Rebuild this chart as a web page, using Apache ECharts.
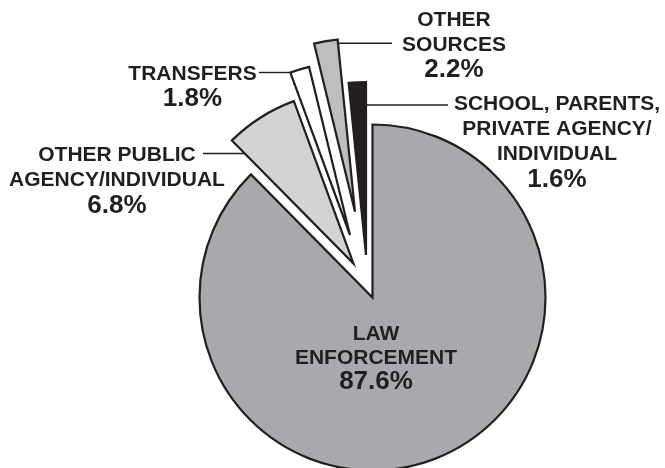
<!DOCTYPE html>
<html>
<head>
<meta charset="utf-8">
<script src="https://cdn.jsdelivr.net/npm/echarts@6/dist/echarts.min.js"></script>
<style>
html,body{margin:0;padding:0;background:#fff;}
#chart{width:665px;height:468px;}
</style>
</head>
<body>
<div id="chart"></div>
<script>
// ---- data ----
const categories = ['LAW ENFORCEMENT', 'OTHER PUBLIC AGENCY/INDIVIDUAL', 'TRANSFERS', 'OTHER SOURCES', 'SCHOOL, PARENTS, PRIVATE AGENCY/INDIVIDUAL'];
const values = [87.6, 6.8, 1.8, 2.2, 1.6];
const labelLines = [
  ['LAW', 'ENFORCEMENT'],
  ['OTHER PUBLIC', 'AGENCY/INDIVIDUAL'],
  ['TRANSFERS'],
  ['OTHER', 'SOURCES'],
  ['SCHOOL, PARENTS,', 'PRIVATE AGENCY/', 'INDIVIDUAL']
];

// ---- layout & style ----
const PIE = { cx: 372.5, cy: 297.5, r: 173 };
const explode = [[0, 0], [-19, -34], [-22.5, -62.5], [-17.5, -85.8], [-6.5, -42.5]];
const colors = ['#a7a9ac', '#d1d3d4', '#ffffff', '#bcbec0', '#231f20'];
const INK = '#231f20';
const labelPos = [
  { x: 376, y: 322, lh: 24 },
  { x: 117, y: 143, lh: 25, lineY: 153.5, lineX: 203, side: 'left' },
  { x: 192.5, y: 61.5, lh: 25, lineY: 72.5, lineX: 259, side: 'left' },
  { x: 454, y: 7.5, lh: 25, lineY: 43.3, lineX: 392, side: 'right' },
  { x: 557, y: 92, lh: 25, lineY: 105, lineX: 448, side: 'right' }
];

const total = values.reduce((a, b) => a + b, 0);
function sliceAngles(i) {
  let s = 0;
  for (let k = 0; k < i; k++) s += values[k];
  return [s / total * 360, (s + values[i]) / total * 360];
}
function pt(cx, cy, r, deg) {
  const a = deg * Math.PI / 180;
  return [cx + r * Math.sin(a), cy - r * Math.cos(a)];
}
// x where horizontal line y meets slice i's outline, on the label side
function edgeX(i, y, side) {
  const cx = PIE.cx + explode[i][0], cy = PIE.cy + explode[i][1];
  const [a0, a1] = sliceAngles(i);
  const poly = [[cx, cy]];
  const n = 40;
  for (let k = 0; k <= n; k++) poly.push(pt(cx, cy, PIE.r, a0 + (a1 - a0) * k / n));
  const xs = [];
  for (let k = 0; k < poly.length; k++) {
    const p = poly[k], q = poly[(k + 1) % poly.length];
    if ((p[1] - y) * (q[1] - y) <= 0 && p[1] !== q[1]) {
      const t = (y - p[1]) / (q[1] - p[1]);
      xs.push(p[0] + t * (q[0] - p[0]));
    }
  }
  if (!xs.length) return cx;
  return side === 'left' ? Math.min.apply(null, xs) : Math.max.apply(null, xs);
}

const series = values.map(function (v, i) {
  return {
    type: 'pie',
    name: categories[i],
    center: [PIE.cx + explode[i][0], PIE.cy + explode[i][1]],
    radius: [0, PIE.r],
    startAngle: 90,
    clockwise: true,
    avoidLabelOverlap: false,
    silent: true,
    animation: false,
    emphasis: { disabled: true },
    itemStyle: { borderColor: INK, borderWidth: 2.2, borderJoin: 'miter' },
    label: {
      show: true,
      position: 'outside',
      color: INK,
      fontFamily: 'Liberation Sans, Arial, sans-serif',
      fontWeight: 'bold',
      formatter: function (p) {
        const ls = labelLines[p.dataIndex].map(function (s) { return '{n|' + s + '}'; });
        ls.push('{p|' + p.value.toFixed(1) + '%}');
        return ls.join('\n');
      },
      rich: {
        n: { fontSize: 21, fontWeight: 'bold', color: INK, lineHeight: labelPos[i].lh, align: 'center', fontFamily: 'Liberation Sans, Arial, sans-serif' },
        p: { fontSize: 26, fontWeight: 'bold', color: INK, lineHeight: labelPos[i].lh, align: 'center', fontFamily: 'Liberation Sans, Arial, sans-serif' }
      }
    },
    labelLine: { show: i !== 0, length: 5, length2: 5, lineStyle: { color: INK, width: 1.4 } },
    labelLayout: function (params) {
      const L = labelPos[i];
      const out = { x: L.x, y: L.y, align: 'center', verticalAlign: 'top' };
      if (i !== 0) {
        const ex = edgeX(i, L.lineY, L.side);
        out.labelLinePoints = [[ex, L.lineY], [(ex + L.lineX) / 2, L.lineY], [L.lineX, L.lineY]];
      }
      return out;
    },
    data: categories.map(function (c, k) {
      if (k === i) {
        return { name: c, value: values[k], itemStyle: { color: colors[k] } };
      }
      return {
        name: c, value: values[k],
        itemStyle: { color: 'rgba(0,0,0,0)', borderWidth: 0 },
        label: { show: false }, labelLine: { show: false }
      };
    })
  };
});

const chart = echarts.init(document.getElementById('chart'), null, { renderer: 'canvas' });
chart.setOption({
  backgroundColor: '#ffffff',
  animation: false,
  tooltip: { show: false },
  legend: { show: false },
  series: series
});
</script>
</body>
</html>
